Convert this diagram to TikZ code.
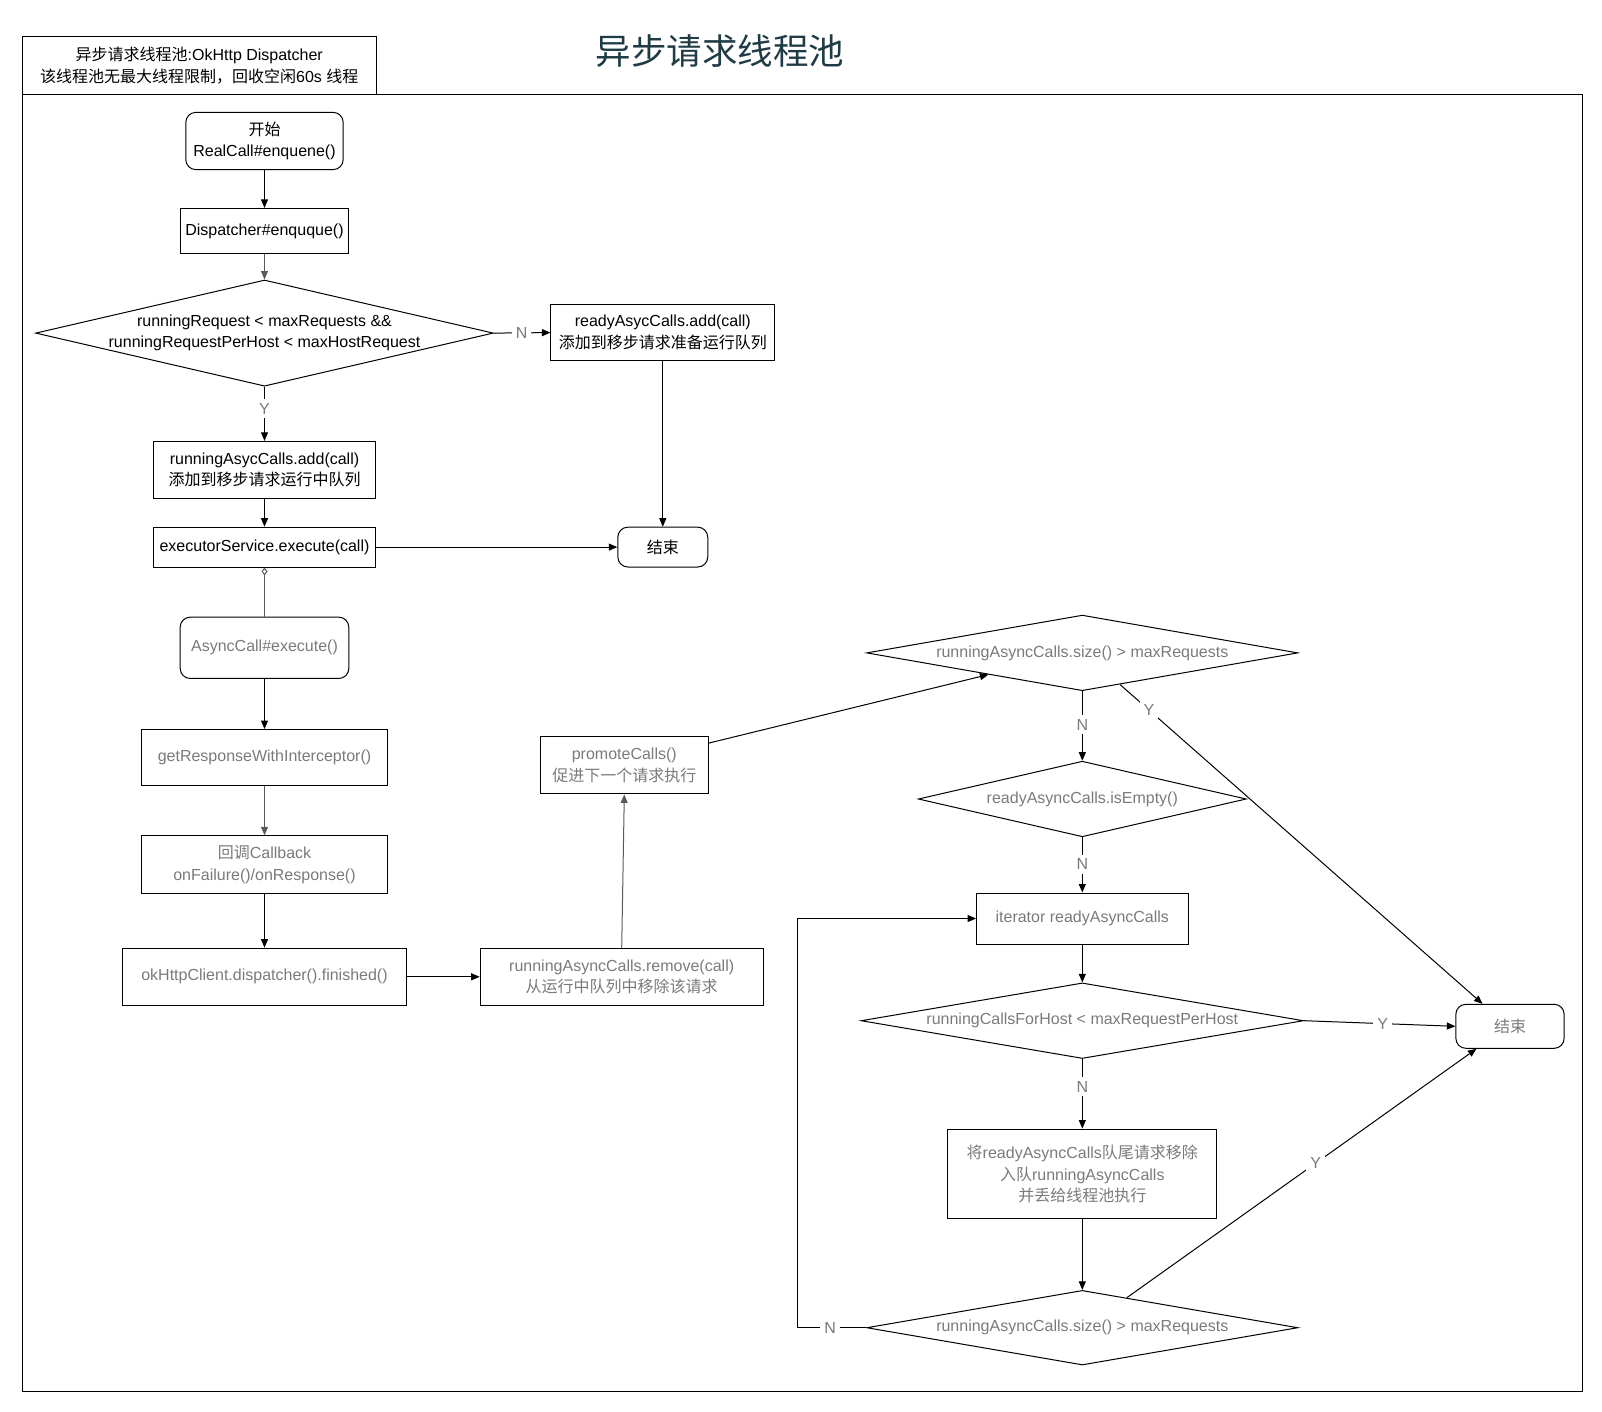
\documentclass[tikz,border=0pt]{standalone}
\usepackage{fontspec}
\setmainfont{Liberation Sans}
\newfontfamily\cjk{Noto Sans CJK SC}
\usetikzlibrary{arrows.meta,shapes.geometric,calc}
\definecolor{gtext}{HTML}{7A7A7A}
\definecolor{titlec}{HTML}{1F3B45}
\definecolor{gline}{HTML}{5A5A5A}
\newcommand\nf{\fontsize{16}{21.5}\selectfont}
\begin{document}
\begin{tikzpicture}[x=1pt,y=-1pt,
  box/.style={draw, line width=1pt, inner sep=0pt, align=center, font=\nf, text=black},
  gbox/.style={box, text=gtext},
  rbox/.style={box, rounded corners=10pt},
  grbox/.style={gbox, rounded corners=10pt},
  dia/.style={draw, diamond, inner sep=0pt, line width=1pt},
  dtxt/.style={align=center, font=\nf, inner sep=0pt},
  arr/.style={-{Triangle[length=8.5pt,width=7pt]}, line width=1pt},
  lbl/.style={fill=white, text=gtext, font=\nf, inner sep=4pt}
]
\useasboundingbox (0,0) rectangle (1602,1412);
% frame and header
\node[draw, line width=1pt, minimum width=1560.1pt, minimum height=1296.6pt, anchor=north west, inner sep=0pt] (frame) at (21.5,94) {};
\node[box, minimum width=354.5pt, minimum height=58pt, anchor=north west] (hdr) at (21.5,36)
  {{\cjk 异步请求线程池}:OkHttp Dispatcher\\{\cjk 该线程池无最大线程限制，回收空闲}60s {\cjk 线程}};
\node[text=titlec, font=\fontsize{35.5}{40}\selectfont\cjk, inner sep=0pt] (title) at (720,51) {异步请求线程池};

% left column
\node[rbox, minimum width=157.4pt, minimum height=57.2pt] (start) at (264.5,141) {{\cjk 开始}\\RealCall\#enquene()};
\node[box, minimum width=168.6pt, minimum height=45pt] (disp) at (264.5,230.9) {Dispatcher\#enquque()};
\node[dia, minimum width=457.7pt, minimum height=106.2pt] (d1) at (264.5,333.1) {};
\node[dtxt] (d1t) at (d1.center) {runningRequest < maxRequests \&\&\\runningRequestPerHost < maxHostRequest};
\node[box, minimum width=223.7pt, minimum height=56.2pt] (ready) at (662.8,332.6) {readyAsycCalls.add(call)\\{\cjk 添加到移步请求准备运行队列}};
\node[box, minimum width=222.7pt, minimum height=57.2pt] (runadd) at (264.5,470) {runningAsycCalls.add(call)\\{\cjk 添加到移步请求运行中队列}};
\node[box, minimum width=222.8pt, minimum height=39.8pt] (exec) at (264.5,547.1) {executorService.execute(call)};
\node[rbox, minimum width=89.9pt, minimum height=39.8pt] (end1) at (662.8,547.1) {{\cjk 结束}};
\node[grbox, minimum width=168.6pt, minimum height=61.3pt] (async) at (264.5,647.8) {AsyncCall\#execute()};
\node[gbox, minimum width=245.2pt, minimum height=56.2pt] (getresp) at (264.5,757.6) {getResponseWithInterceptor()};
\node[gbox, minimum width=245.2pt, minimum height=57.2pt] (callback) at (264.5,864.4) {{\cjk 回调}Callback\\onFailure()/onResponse()};
\node[gbox, minimum width=284pt, minimum height=57.3pt] (okhttp) at (264.5,976.8) {okHttpClient.dispatcher().finished()};
\node[gbox, minimum width=283pt, minimum height=57.3pt] (remove) at (621.7,976.8) {runningAsyncCalls.remove(call)\\{\cjk 从运行中队列中移除该请求}};
\node[gbox, minimum width=167.5pt, minimum height=57.3pt] (promote) at (624.3,765.3) {promoteCalls()\\{\cjk 促进下一个请求执行}};

% right column
\node[dia, minimum width=431.2pt, minimum height=75.6pt] (d2) at (1082.3,652.9) {};
\node[dtxt, text=gtext] (d2t) at (d2.center) {runningAsyncCalls.size() > maxRequests};
\node[dia, minimum width=328pt, minimum height=75.6pt] (d3) at (1082.3,799) {};
\node[dtxt, text=gtext] (d3t) at (d3.center) {readyAsyncCalls.isEmpty()};
\node[gbox, minimum width=211.5pt, minimum height=51pt] (iter) at (1082.3,918.5) {iterator readyAsyncCalls};
\node[dia, minimum width=442.4pt, minimum height=75.6pt] (d4) at (1082.3,1020.7) {};
\node[dtxt, text=gtext] (d4t) at (d4.center) {runningCallsForHost < maxRequestPerHost};
\node[gbox, minimum width=268.7pt, minimum height=89.9pt] (move) at (1082.3,1174) {{\cjk 将}readyAsyncCalls{\cjk 队尾请求移除}\\{\cjk 入队}runningAsyncCalls\\{\cjk 并丢给线程池执行}};
\node[dia, minimum width=431.2pt, minimum height=74.6pt] (d5) at (1082.3,1327.7) {};
\node[dtxt, text=gtext] (d5t) at (d5.center) {runningAsyncCalls.size() > maxRequests};
\node[grbox, minimum width=108.3pt, minimum height=44pt] (end2) at (1510,1026.3) {{\cjk 结束}};
\coordinate (loop) at (797,1327.7);

% connectors left
\draw[arr] (start) -- (disp);
\draw[arr, draw=gline] (disp) -- (d1);
\draw[arr] (d1.east) -- node[lbl, pos=0.49]{N} (ready.west);
\draw[arr] (d1.south) -- node[lbl, pos=0.41]{Y} (runadd.north);
\draw[arr] (ready) -- (end1);
\draw[arr] (runadd) -- (exec);
\draw[arr] (exec) -- (end1);
\draw[{Diamond[open,length=8pt,width=6pt]}-, line width=1pt, draw=gline] (exec.south) -- (async.north);
\draw[arr] (async) -- (getresp);
\draw[arr, draw=gline] (getresp) -- (callback);
\draw[arr] (callback) -- (okhttp);
\draw[arr] (okhttp) -- (remove);
\draw[arr, draw=gline] (remove.north) -- (promote.south);
\draw[arr] ([yshift=-7pt]promote.north east) -- (d2.193);

% connectors right
\draw[arr] (d2.south) -- node[lbl, pos=0.48]{N} (d3.north);
\draw[arr] (d2.-40.5) -- node[lbl, pos=0.08]{Y} ([xshift=-27.5pt]end2.north);
\draw[arr] (d3.south) -- node[lbl, pos=0.49]{N} (iter.north);
\draw[arr] (iter) -- (d4);
\draw[arr] (d4.east) -- node[lbl, pos=0.52]{Y} (end2.west);
\draw[arr] (d4.south) -- node[lbl, pos=0.40]{N} (move.north);
\draw[arr] (move) -- (d5);
\draw[arr] (d5.34) -- node[lbl, pos=0.54]{Y} ([xshift=-33.6pt]end2.south);
\draw[arr] (d5.west) -- node[lbl, pos=0.52]{N} (loop) |- (iter.west);
\end{tikzpicture}
\end{document}
